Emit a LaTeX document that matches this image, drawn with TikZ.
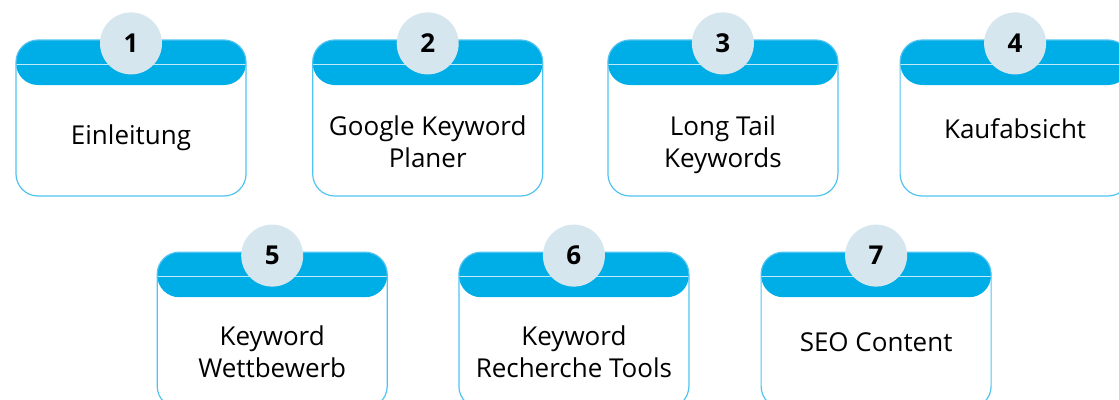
\documentclass[tikz,border=0pt]{standalone}
\usepackage{fontspec}
\setmainfont{Open Sans}
\usepackage{xcolor}
\usetikzlibrary{positioning, calc}

\definecolor{headblue}{RGB}{0,174,231}
\definecolor{edgeblue}{RGB}{80,195,240}
\definecolor{badgegray}{RGB}{214,230,238}

\begin{document}
\begin{tikzpicture}[
    x=1pt, y=1pt,
    card/.style={rectangle, rounded corners=22pt, draw=edgeblue, line width=1.2pt, minimum width=230pt, minimum height=156pt, inner sep=0pt,
        path picture={
            \fill[headblue] (path picture bounding box.north west) rectangle ([yshift=-45pt]path picture bounding box.north east);
            \draw[white!75!headblue, line width=0.8pt] ([yshift=-24pt]path picture bounding box.north west) -- ([yshift=-24pt]path picture bounding box.north east);
        }},
    badge/.style={circle, fill=badgegray, minimum size=62pt, inner sep=0pt, font=\fontsize{26}{30}\selectfont\bfseries},
    cardtext/.style={align=center, inner sep=0pt, font=\fontsize{26}{32}\selectfont,
        execute at begin node=\strut, execute at end node=\strut}
]

\clip (0,0) rectangle (1119,-399);

% Cards, first row
\node[card] (c1) at (131,-118) {};
\node[card, right=65.5pt of c1] (c2) {};
\node[card, right=64pt of c2] (c3) {};
\node[card, right=61pt of c3] (c4) {};

% Cards, second row
\node[card, below right=55pt and -90pt of c1] (c5) {};
\node[card, right=70.5pt of c5] (c6) {};
\node[card, right=71pt of c6] (c7) {};

% Number badges
\node[badge] (b1) at ([yshift=-4pt]c1.north) {1};
\node[badge] (b2) at ([yshift=-4pt]c2.north) {2};
\node[badge] (b3) at ([yshift=-4pt]c3.north) {3};
\node[badge] (b4) at ([yshift=-4pt]c4.north) {4};
\node[badge] (b5) at ([yshift=-4pt]c5.north) {5};
\node[badge] (b6) at ([yshift=-4pt]c6.north) {6};
\node[badge] (b7) at ([yshift=-4pt]c7.north) {7};

% Card texts
\node[cardtext] (t1) at ([yshift=-20pt]c1.center) {Einleitung};
\node[cardtext] (t2) at ([yshift=-28pt]c2.center) {Google Keyword\\Planer};
\node[cardtext] (t3) at ([yshift=-28pt]c3.center) {Long Tail\\Keywords};
\node[cardtext] (t4) at ([yshift=-14pt]c4.center) {Kaufabsicht};
\node[cardtext] (t5) at ([yshift=-26pt]c5.center) {Keyword\\Wettbewerb};
\node[cardtext] (t6) at ([yshift=-26pt]c6.center) {Keyword\\Recherche Tools};
\node[cardtext] (t7) at ([yshift=-15pt]c7.center) {SEO Content};

\end{tikzpicture}
\end{document}
